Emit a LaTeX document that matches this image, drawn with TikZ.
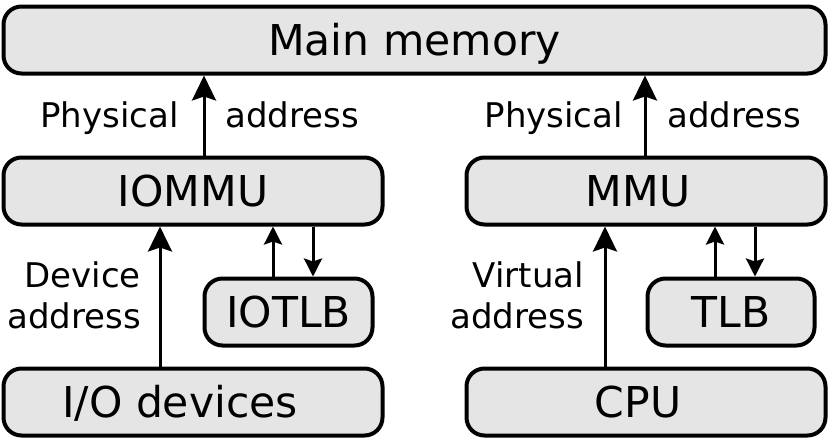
\documentclass[tikz,border=0pt]{standalone}
\usepackage{fontspec}
\setmainfont{DejaVu Sans}
\usepackage{tikz}
\usetikzlibrary{arrows.meta,positioning}

\tikzset{
  unit/.style={draw, line width=4pt, fill=black!10, rounded corners=18pt,
    minimum height=67pt, inner sep=0pt, text height=31pt, text depth=0pt,
    font=\fontsize{42.5}{48}\selectfont},
  lbl/.style={inner sep=0pt, font=\fontsize{34}{41}\selectfont},
  bigarr/.style={line width=3pt, -{Stealth[length=25pt,width=24pt,inset=4pt]}},
  smallarr/.style={line width=3pt, -{Stealth[length=18pt,width=18pt,inset=3pt]}}
}

\begin{document}
\begin{tikzpicture}[x=1pt, y=-1pt]
\useasboundingbox (0,0) rectangle (830,440);
% boxes
\node[unit, minimum width=822pt] (mem)  at (414.5,40)  {Main memory};
\node[unit, minimum width=379pt] (iommu) at (193,191)  {IOMMU};
\node[unit, minimum width=359pt] (mmu)   at (646,191)  {MMU\rule{16pt}{0pt}};
\node[unit, minimum width=168pt] (iotlb) at (288.5,312) {IOTLB};
\node[unit, minimum width=167pt] (tlb)   at (731,312)  {TLB};
\node[unit, minimum width=379pt] (io)    at (193,402)  {I/O devices\rule{26pt}{0pt}};
\node[unit, minimum width=359pt] (cpu)   at (646,402)  {CPU\rule{16pt}{0pt}};
% physical address, left and right
\draw[bigarr] ([xshift=11pt]iommu.north) -- ([xshift=11pt]iommu.north |- mem.south);
\node[lbl, anchor=base east] (physl) at (179,127) {Physical};
\node[lbl, anchor=base west] (addrl) at (225,127) {address};
\draw[bigarr] ([xshift=-1pt]mmu.north) -- ([xshift=-1pt]mmu.north |- mem.south);
\node[lbl, anchor=base east] (physr) at (623,127) {Physical};
\node[lbl, anchor=base west] (addrr) at (667,127) {address};
% device / virtual address
\draw[bigarr] ([xshift=-33pt]io.north) -- ([xshift=-33pt]io.north |- iommu.south);
\node[lbl, anchor=base east] (dev) at (141,287) {Device};
\node[lbl, anchor=base east] (devaddr) at (141,328) {address};
\draw[bigarr] ([xshift=-41pt]cpu.north) -- ([xshift=-41pt]cpu.north |- mmu.south);
\node[lbl, anchor=base east] (virt) at (584,287) {Virtual};
\node[lbl, anchor=base east] (virtaddr) at (584,328) {address};
% lookups
\draw[smallarr] ([xshift=-15.5pt]iotlb.north) -- ([xshift=-15.5pt]iotlb.north |- iommu.south);
\draw[smallarr] ([xshift=24.5pt]iotlb.north |- iommu.south) -- ([xshift=24.5pt]iotlb.north);
\draw[smallarr] ([xshift=-16pt]tlb.north) -- ([xshift=-16pt]tlb.north |- mmu.south);
\draw[smallarr] ([xshift=24pt]tlb.north |- mmu.south) -- ([xshift=24pt]tlb.north);
\end{tikzpicture}
\end{document}
